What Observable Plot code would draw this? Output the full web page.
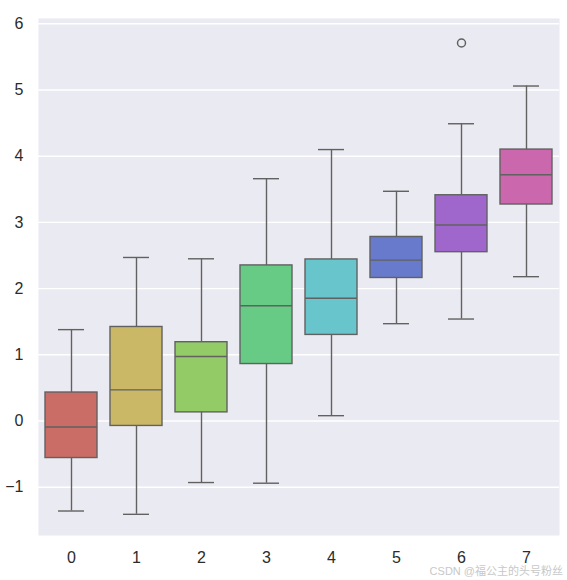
<!DOCTYPE html>
<html>
<head>
<meta charset="utf-8">
<script src="https://cdn.jsdelivr.net/npm/d3@7"></script>
<script src="https://cdn.jsdelivr.net/npm/@observablehq/plot@0.6"></script>
<style>
  html, body { margin: 0; padding: 0; background: #ffffff; }
  #wrap { position: relative; width: 567px; height: 580px; }
  #wm { position: absolute; right: 4px; top: 562px; font-family: "Liberation Sans", "Noto Sans CJK SC", sans-serif; font-size: 11px; color: #c8c8c8; }
</style>
</head>
<body>
<div id="wrap"><div id="chart"></div><div id="wm">CSDN @福公主的头号粉丝</div></div>
<script>
const categories = ["0", "1", "2", "3", "4", "5", "6", "7"];
const lowerWhisker = [-1.36, -1.41, -0.93, -0.94, 0.08, 1.47, 1.54, 2.18];
const q1 = [-0.56, -0.075, 0.13, 0.86, 1.30, 2.16, 2.55, 3.27];
const median = [-0.09, 0.47, 0.975, 1.74, 1.855, 2.43, 2.96, 3.72];
const q3 = [0.43, 1.42, 1.19, 2.35, 2.44, 2.78, 3.41, 4.10];
const upperWhisker = [1.38, 2.47, 2.45, 3.66, 4.10, 3.47, 4.49, 5.06];
const outlierCats = ["6"];
const outlierVals = [5.71];
const colors = ["rgb(203,109,103)", "rgb(203,184,103)", "rgb(147,203,103)", "rgb(103,203,134)",
                "rgb(103,197,203)", "rgb(103,122,203)", "rgb(159,103,203)", "rgb(203,103,172)"];
const yTicks = [-1, 0, 1, 2, 3, 4, 5, 6];

const boxes = categories.map((c, i) => ({
  cat: c, lo: lowerWhisker[i], q1: q1[i], med: median[i], q3: q3[i], hi: upperWhisker[i], color: colors[i]
}));
const outliers = outlierCats.map((c, i) => ({cat: c, v: outlierVals[i]}));

const lineColor = "#616161";

const chart = Plot.plot({
  width: 567,
  height: 580,
  marginLeft: 38,
  marginRight: 8,
  marginTop: 18,
  marginBottom: 45,
  style: {fontFamily: "'Liberation Sans', Arial, sans-serif", fontSize: "16px", color: "#262626", background: "#ffffff"},
  x: {domain: categories, paddingInner: 0.2, paddingOuter: 0.1, label: null},
  y: {domain: [-1.73, 6.08], label: null},
  marks: [
    Plot.frame({fill: "#eaeaf2", stroke: null}),
    Plot.ruleY(yTicks, {stroke: "#ffffff", strokeWidth: 1.4}),
    Plot.axisY({ticks: yTicks, tickSize: 0, tickPadding: 15, label: null, fontSize: 16, fill: "#2b2b2b"}),
    Plot.axisX({tickSize: 0, tickPadding: 16, label: null, fontSize: 16, fill: "#2b2b2b"}),
    Plot.ruleX(boxes, {x: "cat", y1: "lo", y2: "hi", stroke: lineColor, strokeWidth: 1.4}),
    Plot.barY(boxes, {x: "cat", y1: "q1", y2: "q3", fill: "color", stroke: lineColor, strokeWidth: 1.4}),
    Plot.tickY(boxes, {x: "cat", y: "med", stroke: lineColor, strokeWidth: 1.4}),
    Plot.tickY(boxes, {x: "cat", y: "lo", stroke: lineColor, strokeWidth: 1.4, insetLeft: 13, insetRight: 13}),
    Plot.tickY(boxes, {x: "cat", y: "hi", stroke: lineColor, strokeWidth: 1.4, insetLeft: 13, insetRight: 13}),
    Plot.dot(outliers, {x: "cat", y: "v", r: 4, stroke: lineColor, strokeWidth: 1.5, fill: "none"})
  ]
});
document.getElementById("chart").appendChild(chart);
</script>
</body>
</html>
